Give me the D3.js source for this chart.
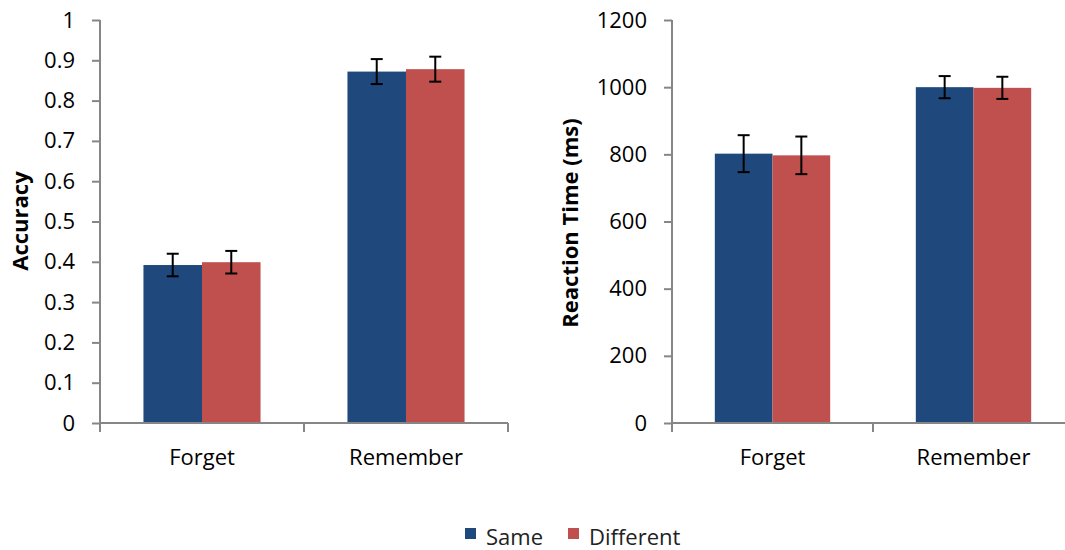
<!DOCTYPE html>
<html>
<head>
<meta charset="utf-8">
<script src="https://cdn.jsdelivr.net/npm/d3@7"></script>
<style>
  html, body { margin: 0; padding: 0; background: #fff; }
  svg { display: block; font-family: "Open Sans", sans-serif; }
</style>
</head>
<body>
<svg id="chart" width="1065" height="550"></svg>
<script>
const categories = ["Forget", "Remember"];
const seriesNames = ["Same", "Different"];
const seriesColors = ["#1F497D", "#C0504D"];

const accuracySame = [0.392, 0.872];
const accuracyDiff = [0.399, 0.878];
const accuracyErrSame = [0.028, 0.031];
const accuracyErrDiff = [0.028, 0.031];
const accuracyTicks = [0, 0.1, 0.2, 0.3, 0.4, 0.5, 0.6, 0.7, 0.8, 0.9, 1];

const rtSame = [802, 1000];
const rtDiff = [797, 998];
const rtErrSame = [55, 33];
const rtErrDiff = [56, 33];
const rtTicks = [0, 200, 400, 600, 800, 1000, 1200];

const svg = d3.select("#chart");
const axisColor = "#868686";

function drawPanel(opts) {
  const g = svg.append("g").attr("transform", `translate(${opts.left},0)`);
  const w = opts.width, top = 20, bottom = 423;
  const x0 = d3.scaleBand().domain(categories).range([0, w]).padding(0);
  const gap = 0.213;
  const x1 = d3.scaleBand().domain(seriesNames)
    .range([x0.bandwidth() * gap, x0.bandwidth() * (1 - gap)]).padding(0);
  const y = d3.scaleLinear().domain(opts.domain).range([bottom, top]);

  const rows = [];
  categories.forEach((c, i) => {
    rows.push({cat: c, s: 0, v: opts.same[i], e: opts.errSame[i]});
    rows.push({cat: c, s: 1, v: opts.diff[i], e: opts.errDiff[i]});
  });

  // bars
  g.selectAll("rect.bar").data(rows).enter().append("rect")
    .attr("class", "bar")
    .attr("x", d => x0(d.cat) + x1(seriesNames[d.s]))
    .attr("width", x1.bandwidth())
    .attr("y", d => y(d.v))
    .attr("height", d => y(opts.domain[0]) - y(d.v))
    .attr("fill", d => seriesColors[d.s]);

  // error bars
  const eb = g.selectAll("g.err").data(rows).enter().append("g").attr("class", "err")
    .attr("stroke", "#000").attr("stroke-width", 2);
  const cx = d => x0(d.cat) + x1(seriesNames[d.s]) + x1.bandwidth() / 2;
  eb.append("line").attr("x1", cx).attr("x2", cx)
    .attr("y1", d => y(d.v + d.e)).attr("y2", d => y(d.v - d.e));
  eb.append("line").attr("x1", d => cx(d) - 6).attr("x2", d => cx(d) + 6)
    .attr("y1", d => y(d.v + d.e)).attr("y2", d => y(d.v + d.e));
  eb.append("line").attr("x1", d => cx(d) - 6).attr("x2", d => cx(d) + 6)
    .attr("y1", d => y(d.v - d.e)).attr("y2", d => y(d.v - d.e));

  // y axis
  const yAxis = d3.axisLeft(y).tickValues(opts.ticks).tickFormat(opts.fmt)
    .tickSize(8).tickPadding(17);
  const ya = g.append("g").call(yAxis);
  ya.select(".domain").attr("stroke", axisColor).attr("stroke-width", 2)
    .attr("d", `M0,${top}V${bottom}`);
  ya.selectAll(".tick line").attr("stroke", axisColor).attr("stroke-width", 2);
  ya.selectAll(".tick text").attr("fill", "#000").style("font-size", "22px")
    .style("font-family", "'Open Sans', sans-serif");

  // x axis
  const xa = g.append("g").attr("transform", `translate(0,${bottom})`);
  xa.append("line").attr("x1", 0).attr("x2", w).attr("y1", 0).attr("y2", 0)
    .attr("stroke", axisColor).attr("stroke-width", 2);
  const bounds = [0].concat(categories.map(c => x0(c) + x0.bandwidth()));
  xa.selectAll("line.xt").data(bounds).enter().append("line").attr("class", "xt")
    .attr("x1", d => d).attr("x2", d => d).attr("y1", 0).attr("y2", 9)
    .attr("stroke", axisColor).attr("stroke-width", 2);
  xa.selectAll("text").data(categories).enter().append("text")
    .attr("x", d => x0(d) + x0.bandwidth() / 2)
    .attr("y", 42)
    .attr("text-anchor", "middle")
    .style("font-size", "22px")
    .attr("fill", "#000")
    .text(d => d);

  // y title
  svg.append("text")
    .attr("transform", `translate(${opts.titleX},${opts.titleY}) rotate(-90)`)
    .attr("text-anchor", "middle")
    .style("font-size", "22px").style("font-weight", "bold")
    .attr("fill", "#000")
    .text(opts.title);
}

drawPanel({
  left: 100, width: 408, domain: [0, 1],
  same: accuracySame, diff: accuracyDiff, errSame: accuracyErrSame, errDiff: accuracyErrDiff,
  ticks: accuracyTicks, fmt: d3.format(".1~f"),
  title: "Accuracy", titleX: 28, titleY: 221
});

drawPanel({
  left: 672, width: 402, domain: [0, 1200],
  same: rtSame, diff: rtDiff, errSame: rtErrSame, errDiff: rtErrDiff,
  ticks: rtTicks, fmt: d3.format("d"),
  title: "Reaction Time (ms)", titleX: 578, titleY: 223
});

// legend
const legend = svg.append("g");
const legendX = [465, 568];
seriesNames.forEach((s, i) => {
  legend.append("rect").attr("x", legendX[i]).attr("y", 528).attr("width", 11).attr("height", 11)
    .attr("fill", seriesColors[i]);
  legend.append("text").attr("x", legendX[i] + 21).attr("y", 545)
    .style("font-size", "22px").attr("fill", "#222").text(s);
});
</script>
</body>
</html>
